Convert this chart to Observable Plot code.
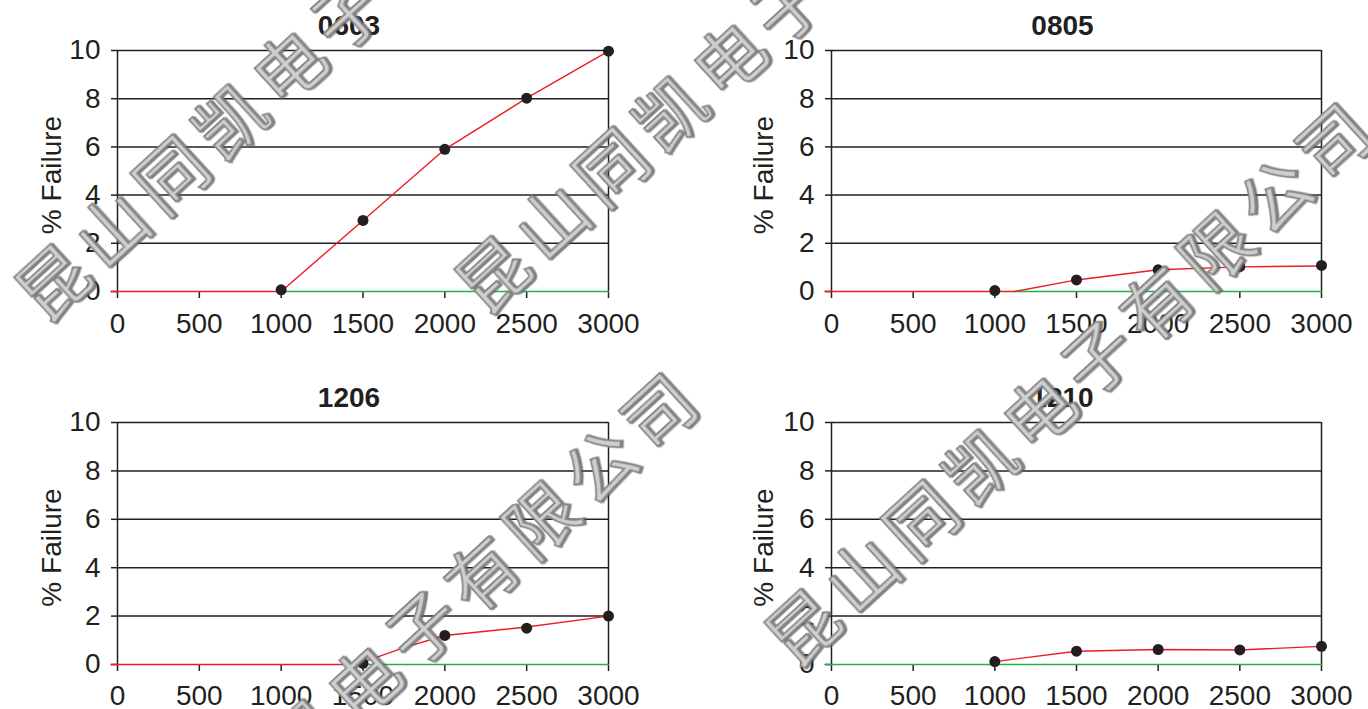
<!DOCTYPE html>
<html>
<head>
<meta charset="utf-8">
<script src="https://cdn.jsdelivr.net/npm/d3@7"></script>
<script src="https://cdn.jsdelivr.net/npm/@observablehq/plot@0.6"></script>
<style>
  html, body { margin: 0; padding: 0; background: #fff; }
  #chart { position: relative; width: 1368px; height: 709px; overflow: hidden; background: #fff; }
  #watermark { left: 0; top: 0; pointer-events: none; }
</style>
</head>
<body>
<div id="chart"></div>
<script>
// ---------- data ----------
const xTicks = [0, 500, 1000, 1500, 2000, 2500, 3000];
const yTicks = [0, 2, 4, 6, 8, 10];
const gridLevels = [2, 4, 6, 8, 10];
const yLabel = "% Failure";
const titles = ["0603", "0805", "1206", "1210"];

// measured points (black dots)
const hours = [1000, 1500, 2000, 2500, 3000];
const hours1206 = [1500, 2000, 2500, 3000];
const fail0603 = [0.07, 2.95, 5.9, 8.02, 9.97];
const fail0805 = [0.04, 0.48, 0.9, 1.03, 1.08];
const fail1206 = [0.05, 1.2, 1.5, 2.0];
const fail1210 = [0.12, 0.55, 0.62, 0.6, 0.75];

// red curves
const red0603X = [-40, 1000, 1500, 2000, 2500, 3000];
const red0603Y = [0, 0, 2.95, 5.9, 8.02, 9.97];
const red0805X = [-40, 1120, 1500, 2000, 2500, 3000];
const red0805Y = [0, 0, 0.48, 0.9, 1.02, 1.06];
const red1206X = [-40, 1380, 1500, 1750, 2000, 2500, 3000];
const red1206Y = [0, 0, 0.1, 0.7, 1.2, 1.55, 2.0];
const red1210X = [1000, 1500, 2000, 2500, 3000];
const red1210Y = [0.12, 0.55, 0.62, 0.6, 0.75];

// green zero lines
const green0603X = [1000, 3000];
const green0805X = [1120, 3000];
const green1206X = [1520, 3000];
const green1210X = [-40, 3000];

const watermarkText = "昆山同凯电子有限公司";

// ---------- helpers ----------
const zip = (xs, ys) => xs.map((x, i) => ({x, y: ys[i]}));
const ink = "#231f20";
const redC = "#ed1c24";
const greenC = "#1fb24a";

const series = [
  {title: titles[0], pts: zip(hours, fail0603), red: zip(red0603X, red0603Y), green: zip(green0603X, [0, 0])},
  {title: titles[1], pts: zip(hours, fail0805), red: zip(red0805X, red0805Y), green: zip(green0805X, [0, 0])},
  {title: titles[2], pts: zip(hours1206, fail1206), red: zip(red1206X, red1206Y), green: zip(green1206X, [0, 0])},
  {title: titles[3], pts: zip(hours, fail1210), red: zip(red1210X, red1210Y), green: zip(green1210X, [0, 0])}
];

const layout = [
  {left: 0,   top: 0,   h: 354, ml: 117, mr: 76, mt: 50, mb: 63, lx: -65, tp: 15},
  {left: 684, top: 0,   h: 354, ml: 147, mr: 47, mt: 50, mb: 63, lx: -67, tp: 15},
  {left: 0,   top: 354, h: 355, ml: 117, mr: 76, mt: 68, mb: 45, lx: -65, tp: 14},
  {left: 684, top: 354, h: 355, ml: 147, mr: 47, mt: 68, mb: 45, lx: -67, tp: 14}
];

const chart = document.getElementById("chart");

series.forEach((s, i) => {
  const L = layout[i];
  const p = Plot.plot({
    width: 684,
    height: L.h,
    marginLeft: L.ml,
    marginRight: L.mr,
    marginTop: L.mt,
    marginBottom: L.mb,
    x: {domain: [0, 3000]},
    y: {domain: [0, 10]},
    style: {
      fontFamily: "'Liberation Sans', Arial, Helvetica, sans-serif",
      fontSize: "28px",
      color: ink,
      background: "transparent",
      overflow: "visible"
    },
    marks: [
      Plot.ruleY(gridLevels, {stroke: ink, strokeWidth: 1.5}),
      Plot.ruleX([0, 3000], {y1: 0, y2: 10, stroke: ink, strokeWidth: 1.5}),
      Plot.axisY(yTicks, {tickSize: 6, tickPadding: 11, label: null, stroke: ink, strokeWidth: 1.5, fontSize: 28, tickFormat: d => String(d)}),
      Plot.axisX(xTicks, {tickSize: 7, tickPadding: L.tp, label: null, stroke: ink, strokeWidth: 1.5, fontSize: 28, tickFormat: d => String(d)}),
      Plot.line(s.green, {x: "x", y: "y", stroke: greenC, strokeWidth: 1.6}),
      Plot.line(s.red, {x: "x", y: "y", stroke: redC, strokeWidth: 1.4}),
      Plot.dot(s.pts, {x: "x", y: "y", r: 5.5, fill: ink, stroke: "none"}),
      Plot.text([s.title], {text: d => d, frameAnchor: "top", textAnchor: "middle", lineAnchor: "middle", dy: -24, dx: -14, fontWeight: "bold", fontSize: 28, fill: ink}),
      Plot.text([yLabel], {text: d => d, frameAnchor: "left", textAnchor: "middle", lineAnchor: "middle", rotate: -90, dx: L.lx, dy: 4, fontSize: 28, fill: ink})
    ]
  });
  p.style.position = "absolute";
  p.style.left = L.left + "px";
  p.style.top = L.top + "px";
  chart.appendChild(p);
});

// ---------- watermark overlay ----------
const wmStarts = [[50, 280], [490, 272], [125, 895], [800, 625]];
const wmStep = [59, -54];
const wmAngle = Math.atan2(wmStep[1], wmStep[0]) * 180 / Math.PI;
const wm = d3.create("svg")
  .attr("id", "watermark")
  .attr("width", 1368).attr("height", 709)
  .style("position", "absolute").style("left", "0px").style("top", "0px");
const defs = wm.append("defs");
const f = defs.append("filter").attr("id", "bevel").attr("x", "-20%").attr("y", "-20%").attr("width", "140%").attr("height", "140%");
f.append("feDropShadow").attr("dx", 1.5).attr("dy", 1.5).attr("stdDeviation", 0.7).attr("flood-color", "#555").attr("flood-opacity", 0.8);
const chars = Array.from(watermarkText);
wmStarts.forEach(([sx, sy]) => {
  chars.forEach((c, k) => {
    const cx = sx + k * wmStep[0], cy = sy + k * wmStep[1];
    wm.append("text")
      .attr("transform", `translate(${cx},${cy}) rotate(${wmAngle})`)
      .attr("text-anchor", "middle")
      .attr("dominant-baseline", "central")
      .attr("font-family", "'Noto Sans CJK SC', sans-serif")
      .attr("font-weight", 400)
      .attr("font-size", 70)
      .attr("fill", "#cfcfcf")
      .attr("stroke", "#888")
      .attr("stroke-width", 1.8)
      .attr("filter", "url(#bevel)")
      .text(c);
  });
});
chart.appendChild(wm.node());
</script>
</body>
</html>
